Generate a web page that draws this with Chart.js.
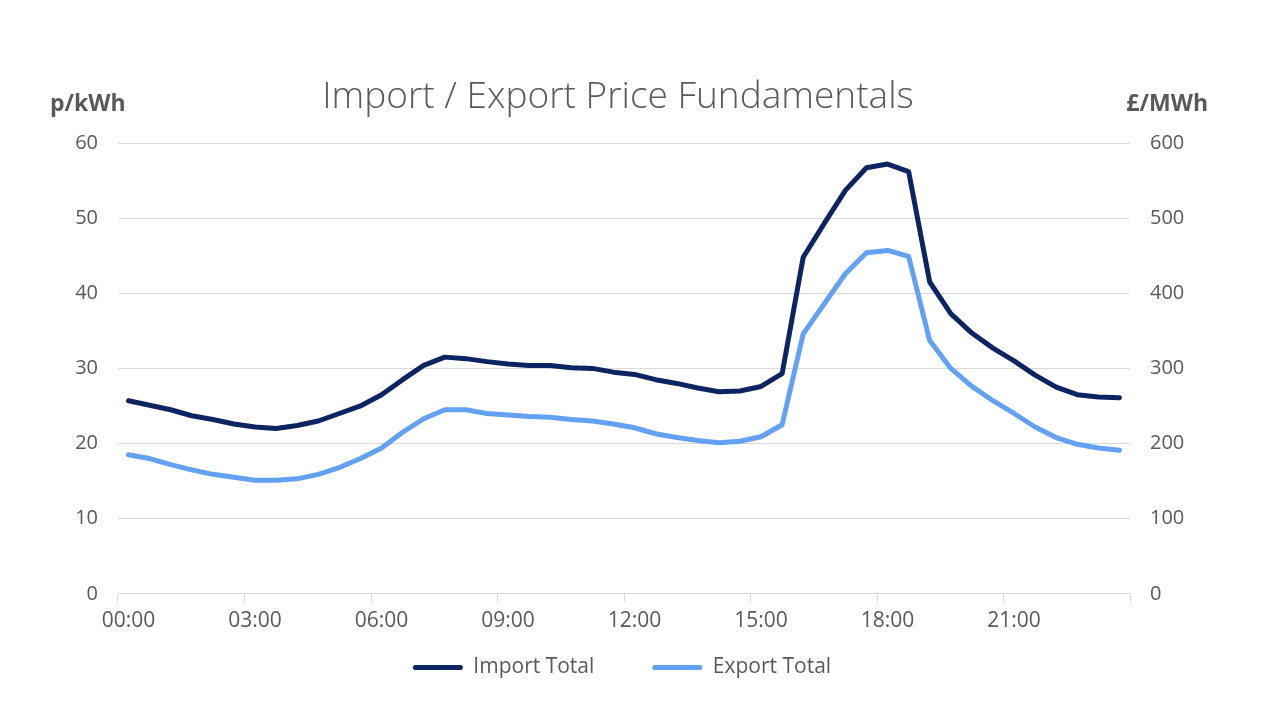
<!DOCTYPE html>
<html>
<head>
<meta charset="utf-8">
<script src="https://cdn.jsdelivr.net/npm/chart.js@4/dist/chart.umd.min.js"></script>
<style>
  html, body { margin: 0; padding: 0; background: #fff; }
  #wrap { width: 1286px; height: 714px; position: relative; }
</style>
</head>
<body>
<div id="wrap"><canvas id="graph"></canvas></div>
<script>
// half-hourly periods, only every 3h labelled
var times = [];
for (var h = 0; h < 24; h++) {
    var hh = (h < 10 ? '0' : '') + h;
    times.push(hh + ':00');
    times.push(hh + ':30');
}

// p/kWh
var importTotal = [25.7, 25.1, 24.5, 23.7, 23.2, 22.6, 22.2, 22.0, 22.4, 23.0, 24.0, 25.0,
                   26.5, 28.5, 30.4, 31.5, 31.3, 30.9, 30.6, 30.4, 30.4, 30.1, 30.0, 29.5,
                   29.2, 28.5, 28.0, 27.4, 26.9, 27.0, 27.6, 29.3, 44.8, 49.3, 53.7, 56.7,
                   57.2, 56.2, 41.5, 37.3, 34.7, 32.7, 31.0, 29.1, 27.5, 26.5, 26.2, 26.1];
var exportTotal = [18.5, 18.0, 17.2, 16.5, 15.9, 15.5, 15.1, 15.1, 15.3, 15.9, 16.8, 18.0,
                   19.4, 21.5, 23.3, 24.5, 24.5, 24.0, 23.8, 23.6, 23.5, 23.2, 23.0, 22.6,
                   22.1, 21.3, 20.8, 20.4, 20.1, 20.3, 20.9, 22.5, 34.6, 38.6, 42.6, 45.4,
                   45.7, 44.9, 33.7, 30.0, 27.6, 25.7, 24.0, 22.2, 20.8, 19.9, 19.4, 19.1];

var chartTitle = 'Import / Export Price Fundamentals';
var leftTitle = 'p/kWh';
var rightTitle = '£/MWh';
var grey = '#595959';
var gridGrey = '#d9d9d9';

/* title centred over the plot + unit labels above both y axes */
var headings = {
    id: 'headings',
    afterDraw: function (chart) {
        var c = chart.ctx, a = chart.chartArea;
        c.save();
        c.fillStyle = grey;
        c.textBaseline = 'middle';
        c.font = '300 37px "Open Sans"';
        c.textAlign = 'center';
        c.fillText(chartTitle, (a.left + a.right) / 2 - 6, 97);
        c.font = 'bold 23px "Open Sans"';
        c.textAlign = 'left';
        c.fillText(leftTitle, a.left - 68, 104);
        c.textAlign = 'right';
        c.fillText(rightTitle, a.right + 78, 104);
        c.restore();
    }
};

new Chart(document.getElementById('graph'), {
    type: 'line',
    data: {
        labels: times,
        datasets: [
            {
                label: 'Import Total',
                data: importTotal,
                borderColor: '#0c2461',
                backgroundColor: '#0c2461',
                borderWidth: 5,
                pointRadius: 0,
                tension: 0,
                borderJoinStyle: 'round',
                borderCapStyle: 'round',
                yAxisID: 'y'
            },
            {
                label: 'Export Total',
                data: exportTotal,
                borderColor: '#62a1f4',
                backgroundColor: '#62a1f4',
                borderWidth: 5,
                pointRadius: 0,
                tension: 0,
                borderJoinStyle: 'round',
                borderCapStyle: 'round',
                yAxisID: 'y'
            }
        ]
    },
    options: {
        responsive: true,
        maintainAspectRatio: false,
        animation: false,
        layout: { padding: { top: 143, bottom: 26, left: 0, right: 0 } },
        plugins: {
            title: { display: false },
            legend: {
                position: 'bottom',
                labels: {
                    color: grey,
                    font: { family: 'Open Sans', size: 21 },
                    boxWidth: 50,
                    boxHeight: 5,
                    useBorderRadius: true,
                    borderRadius: 2.5,
                    padding: 16,
                    generateLabels: function (chart) {
                        var items = Chart.defaults.plugins.legend.labels.generateLabels(chart);
                        items.forEach(function (it) {
                            it.lineWidth = 0;
                            // wider gap between entries, and nudges the block left like the original
                            it.text = it.text + '\u2003\u2003';
                        });
                        return items;
                    }
                }
            },
            tooltip: { enabled: false }
        },
        scales: {
            x: {
                type: 'category',
                offset: true,
                grid: {
                    offset: true,
                    drawOnChartArea: false,
                    tickLength: 8,
                    color: function (ctx) {
                        if (ctx.index === undefined || ctx.index % 6 === 0) return gridGrey;
                        return 'rgba(0,0,0,0)';
                    }
                },
                border: { display: true, color: gridGrey, width: 1 },
                ticks: {
                    autoSkip: false,
                    maxRotation: 0,
                    color: grey,
                    padding: 7,
                    font: { family: 'Open Sans', size: 21 },
                    callback: function (val, i) { return i % 6 === 0 ? times[i] : ''; }
                }
            },
            y: {
                position: 'left',
                min: 0,
                max: 60,
                ticks: { stepSize: 10, color: grey, padding: 20, font: { family: 'Open Sans', size: 20 } },
                grid: { color: gridGrey, drawTicks: false },
                border: { display: false },
                afterFit: function (scale) { scale.width = 118; }
            },
            y1: {
                position: 'right',
                min: 0,
                max: 600,
                ticks: { stepSize: 100, color: grey, padding: 20, font: { family: 'Open Sans', size: 20 } },
                grid: { drawOnChartArea: false, drawTicks: false },
                border: { display: false },
                afterFit: function (scale) { scale.width = 156; }
            }
        }
    },
    plugins: [headings]
});
</script>
</body>
</html>
